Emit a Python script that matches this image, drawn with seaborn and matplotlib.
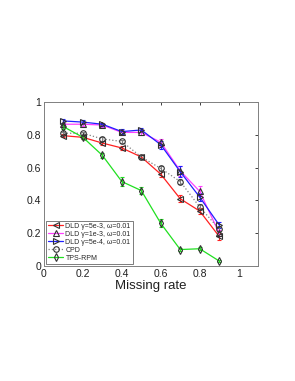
import matplotlib
matplotlib.use("Agg")
import matplotlib.pyplot as plt
import numpy as np
import pandas as pd
import seaborn as sns
from matplotlib.lines import Line2D

# values
missing_rate = [0.1, 0.2, 0.3, 0.4, 0.5, 0.6, 0.7, 0.8, 0.9]

dld_5e3 = [0.795, 0.785, 0.75, 0.72, 0.665, 0.56, 0.41, 0.335, 0.18]
dld_5e3_err = [0.01, 0.01, 0.01, 0.01, 0.012, 0.02, 0.02, 0.02, 0.02]
dld_1e3 = [0.865, 0.865, 0.86, 0.815, 0.815, 0.755, 0.58, 0.455, 0.2]
dld_1e3_err = [0.01, 0.01, 0.01, 0.015, 0.015, 0.02, 0.03, 0.03, 0.02]
dld_5e4 = [0.885, 0.878, 0.865, 0.82, 0.83, 0.74, 0.575, 0.42, 0.25]
dld_5e4_err = [0.01, 0.01, 0.01, 0.015, 0.015, 0.025, 0.035, 0.025, 0.02]
cpd = [0.81, 0.81, 0.775, 0.76, 0.665, 0.595, 0.515, 0.36, 0.225]
cpd_err = [0.01, 0.01, 0.01, 0.01, 0.01, 0.015, 0.015, 0.02, 0.02]
tps_rpm = [0.85, 0.785, 0.675, 0.515, 0.46, 0.26, 0.10, 0.105, 0.03]
tps_rpm_err = [0.015, 0.01, 0.015, 0.025, 0.02, 0.025, 0.01, 0.01, 0.005]

labels = [
    "DLD \u03b3=5e-3, \u03c9=0.01",
    "DLD \u03b3=1e-3, \u03c9=0.01",
    "DLD \u03b3=5e-4, \u03c9=0.01",
    "CPD",
    "TPS-RPM",
]

series = [dld_5e3, dld_1e3, dld_5e4, cpd, tps_rpm]
errors = [dld_5e3_err, dld_1e3_err, dld_5e4_err, cpd_err, tps_rpm_err]
colors = ["#ff2020", "#ff40ff", "#2020ff", "#808080", "#20e020"]
markers = ["<", "^", ">", "o", "d"]
styles = ["-", "-", "-", ":", "-"]

df = pd.DataFrame(
    {
        "rate": np.tile(missing_rate, len(labels)),
        "value": np.concatenate(series),
        "err": np.concatenate(errors),
        "method": np.repeat(labels, len(missing_rate)),
    }
)

sns.set_theme(style="white")
plt.rcParams["font.family"] = ["Liberation Sans", "DejaVu Sans"]

fig = plt.figure(figsize=(2.95, 3.81), dpi=100)
ax = fig.add_axes([0.149, 0.302, 0.726, 0.43])

handles = []
for lab, col, mk, ls in zip(labels, colors, markers, styles):
    sub = df[df["method"] == lab]
    style = dict(color=col, linestyle=ls, linewidth=0.9, marker=mk,
                 markersize=4, markerfacecolor="none",
                 markeredgecolor="#303030", markeredgewidth=0.8)
    ax.errorbar(sub["rate"], sub["value"], yerr=sub["err"], ecolor=col,
                capsize=1.5, elinewidth=0.8, **style)
    handles.append(Line2D([], [], label=lab, **style))

ax.set_xlim(0, 1.1)
ax.set_ylim(0, 1)
ax.set_xticks([0, 0.2, 0.4, 0.6, 0.8, 1])
ax.set_xticklabels(["0", "0.2", "0.4", "0.6", "0.8", "1"])
ax.set_yticks([0, 0.2, 0.4, 0.6, 0.8, 1])
ax.set_yticklabels(["0", "0.2", "0.4", "0.6", "0.8", "1"])
ax.tick_params(direction="in", length=2.5, width=0.6, labelsize=7.5,
               top=True, right=True, pad=2, colors="#202020")
for s in ax.spines.values():
    s.set_color("#808080")
    s.set_linewidth(0.7)
ax.set_xlabel("Missing rate", fontsize=9.5, labelpad=1, color="#202020")

leg = ax.legend(handles=handles, loc="lower left", fontsize=5.0, frameon=True,
                fancybox=False, borderpad=0.3, labelspacing=0.15,
                handlelength=2.2, handletextpad=0.3, borderaxespad=0.3)
leg.get_frame().set_edgecolor("#404040")
leg.get_frame().set_linewidth(0.6)

fig.savefig("out.png", dpi=100)
